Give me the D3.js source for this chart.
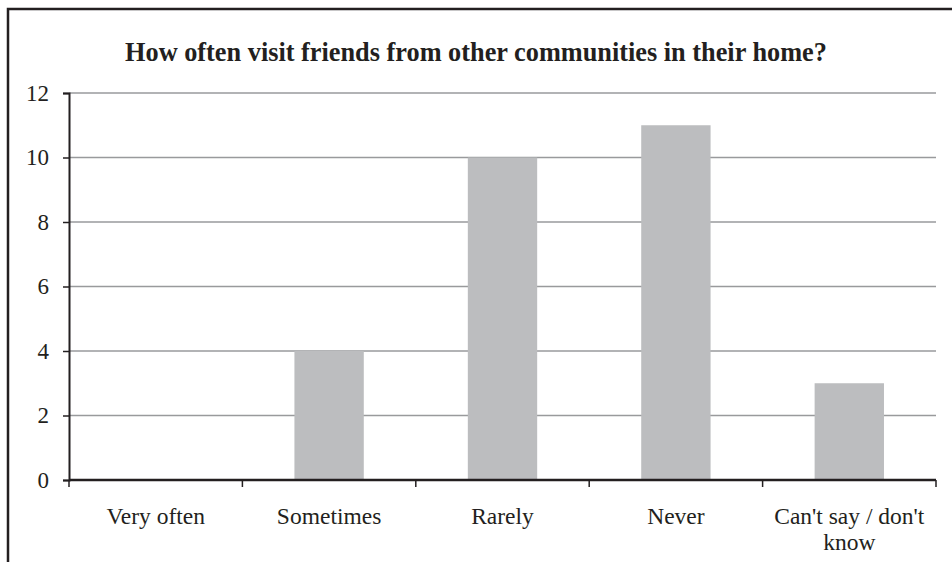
<!DOCTYPE html>
<html>
<head>
<meta charset="utf-8">
<script src="https://cdn.jsdelivr.net/npm/d3@7"></script>
<style>
  body { margin: 0; background: #fff; }
  text { font-family: "Liberation Serif", "Times New Roman", serif; fill: #231f20; }
</style>
</head>
<body>
<div id="chart"></div>
<script>
var categories = ["Very often", "Sometimes", "Rarely", "Never", "Can't say / don't know"];
var values = [0, 4, 10, 11, 3];
var yTicks = [0, 2, 4, 6, 8, 10, 12];
var title = "How often visit friends from other communities in their home?";

var width = 952, height = 562;
var plotLeft = 69, plotRight = 936, plotTop = 93, plotBottom = 480;

var svg = d3.select("#chart").append("svg")
  .attr("width", width)
  .attr("height", height);

// frame (cropped on the right and bottom)
svg.append("path")
  .attr("d", "M8,562 L8,9 L952,9")
  .style("fill", "none")
  .style("stroke", "#231f20")
  .style("stroke-width", 2.5);

svg.append("text")
  .attr("x", 476)
  .attr("y", 61)
  .attr("text-anchor", "middle")
  .style("font-size", "26.3px")
  .style("font-weight", "bold")
  .text(title);

var x = d3.scaleBand()
  .domain(categories)
  .range([plotLeft, plotRight])
  .paddingInner(0.6)
  .paddingOuter(0.3);

var y = d3.scaleLinear()
  .domain([0, 12])
  .range([plotBottom, plotTop]);

// gridlines
svg.append("g")
  .selectAll("line")
  .data(yTicks.filter(d => d > 0))
  .enter()
  .append("line")
  .attr("x1", plotLeft)
  .attr("x2", plotRight)
  .attr("y1", d => y(d))
  .attr("y2", d => y(d))
  .style("stroke", "#999a9c")
  .style("stroke-width", 1.5);

// bars
svg.append("g")
  .selectAll("rect")
  .data(values)
  .enter()
  .append("rect")
  .attr("x", (d, i) => x(categories[i]))
  .attr("y", d => y(d))
  .attr("width", x.bandwidth())
  .attr("height", d => y(0) - y(d))
  .style("fill", "#bcbdbf");

// y axis
var yAxis = svg.append("g")
  .attr("transform", "translate(" + plotLeft + ",0)")
  .call(d3.axisLeft(y).tickValues(yTicks).tickSize(6).tickPadding(14).tickFormat(d3.format("d")));
yAxis.select(".domain").style("stroke", "#231f20").style("stroke-width", 2);
yAxis.selectAll(".tick line").style("stroke", "#231f20").style("stroke-width", 1.5);
yAxis.selectAll(".tick text")
  .style("font-size", "23px")
  .style("font-family", "Liberation Serif, serif")
  .attr("fill", "#231f20");

// x axis: ticks at band boundaries
var step = x.step();
var bounds = d3.range(categories.length + 1).map(i => plotLeft + i * step);
svg.append("line")
  .attr("x1", plotLeft)
  .attr("x2", plotRight)
  .attr("y1", plotBottom)
  .attr("y2", plotBottom)
  .style("stroke", "#231f20")
  .style("stroke-width", 2.5);
svg.append("g")
  .selectAll("line")
  .data(bounds)
  .enter()
  .append("line")
  .attr("x1", d => d)
  .attr("x2", d => d)
  .attr("y1", plotBottom)
  .attr("y2", plotBottom + 7)
  .style("stroke", "#231f20")
  .style("stroke-width", 1.5);

// x labels, wrapped like the original
var labelLines = {
  "Can't say / don't know": ["Can't say / don't", "know"]
};
var labels = svg.append("g")
  .selectAll("text")
  .data(categories)
  .enter()
  .append("text")
  .attr("x", d => x(d) + x.bandwidth() / 2)
  .attr("y", 524)
  .attr("text-anchor", "middle")
  .style("font-size", "23.5px");
labels.each(function(d) {
  var lines = labelLines[d] || [d];
  var t = d3.select(this);
  lines.forEach((l, i) => {
    t.append("tspan")
      .attr("x", x(d) + x.bandwidth() / 2)
      .attr("dy", i == 0 ? 0 : 26)
      .text(l);
  });
});
</script>
</body>
</html>
